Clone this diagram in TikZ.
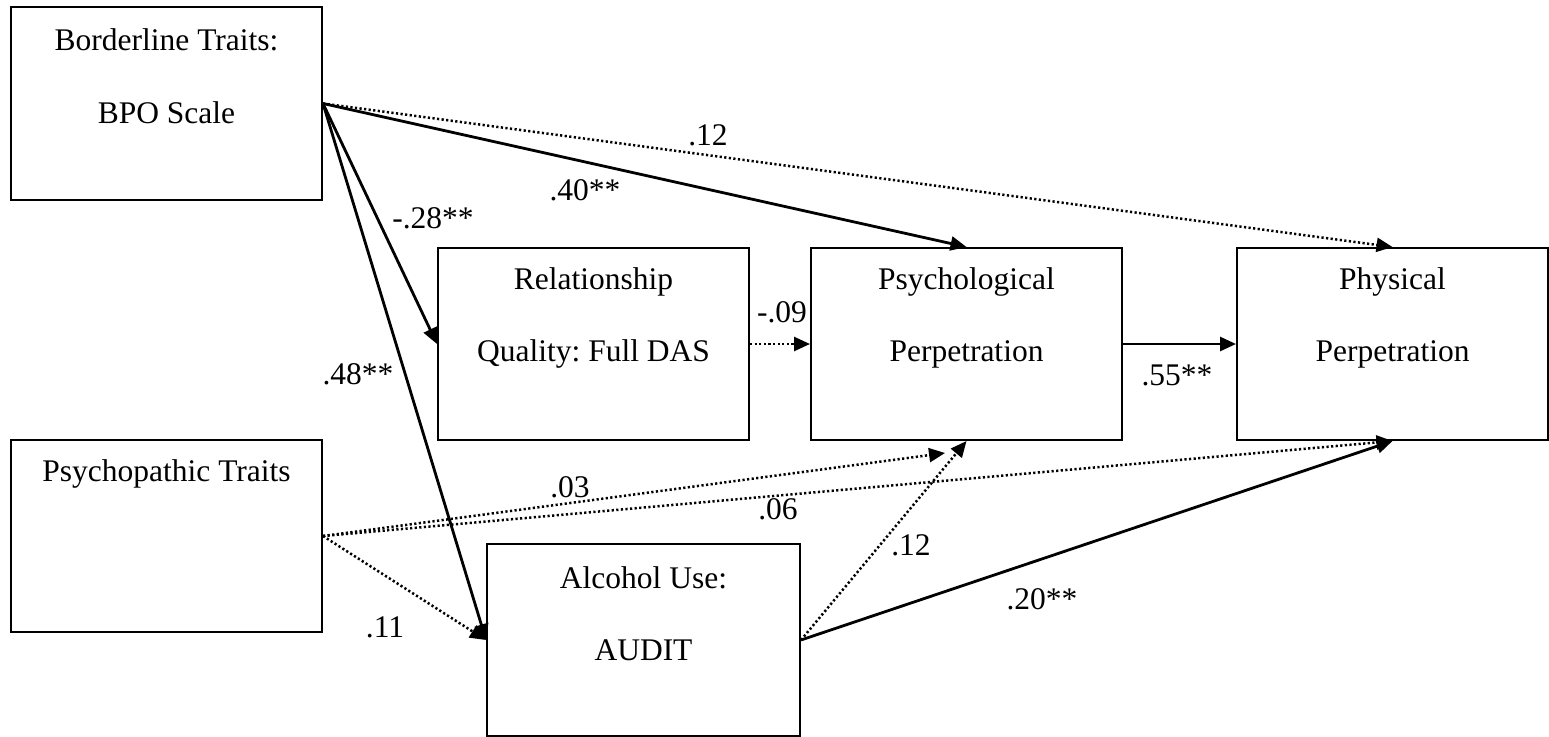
\documentclass[tikz,border=0pt]{standalone}
\usepackage{fontspec}
\setmainfont{Liberation Serif}
\usetikzlibrary{arrows.meta}
\frenchspacing
\begin{document}
\begin{tikzpicture}[x=1pt,y=-1pt,
  font=\fontsize{31.5}{36}\selectfont,
  box/.style={draw,line width=2pt,minimum width=311pt,minimum height=192pt,inner sep=0pt},
  txt/.style={inner sep=0pt,anchor=center},
  lbl/.style={inner sep=0pt,anchor=center},
  path/.style={line width=2.8pt,-{Triangle[length=16pt,width=14pt]}},
  weak/.style={path,line width=2.5pt,dash pattern=on 2.2pt off 2.4pt}
]
\useasboundingbox (0,0) rectangle (1549,736);

% variable boxes
\node[box,minimum height=193pt] (bpo) at (166.5,103.5) {};
\node[box] (rel) at (593.5,344) {};
\node[box] (psy) at (966.5,344) {};
\node[box] (phy) at (1392.5,344) {};
\node[box] (pt)  at (166.5,536) {};
\node[box,minimum width=313pt] (alc) at (643.5,640) {};

% box texts
\node[txt] (bpo1) at (166.5,40) {Borderline Traits:};
\node[txt] (bpo2) at (166.5,113) {BPO Scale};
\node[txt] (rel1) at (593.5,282) {Relationship};
\node[txt] (rel2) at (593.5,354) {Quality: Full DAS};
\node[txt] (psy1) at (966.5,282) {Psychological};
\node[txt] (psy2) at (966.5,354) {Perpetration};
\node[txt] (phy1) at (1392.5,282) {Physical};
\node[txt] (phy2) at (1392.5,354) {Perpetration};
\node[txt] (pt1)  at (166.5,474) {Psychopathic Traits};
\node[txt] (alc1) at (643.5,578) {Alcohol Use:};
\node[txt] (alc2) at (643.5,650) {AUDIT};

% free end of the psychopathy path that stops short of the box
\coordinate (psyin) at (945,453);

% paths
\draw[path] (bpo.east) -- (rel.west);
\draw[path] (bpo.east) -- (psy.north);
\draw[weak] (bpo.east) -- (phy.north);
\draw[path] (bpo.east) -- (alc.west);
\draw[weak] (rel.east) -- (psy.west);
\draw[path] (psy.east) -- (phy.west);
\draw[weak] (pt.east) -- (psyin);
\draw[weak] (pt.east) -- (phy.south);
\draw[weak] (pt.east) -- (alc.west);
\draw[weak] (alc.east) -- (psy.south);
\draw[path] (alc.east) -- (phy.south);

% coefficients
\node[lbl] (l1) at (433,218) {-.28**};
\node[lbl] (l2) at (585,190) {.40**};
\node[lbl] (l3) at (708,135) {.12};
\node[lbl] (l4) at (358,374) {.48**};
\node[lbl] (l5) at (782,312) {-.09};
\node[lbl] (l6) at (1177,375) {.55**};
\node[lbl] (l7) at (570,487) {.03};
\node[lbl] (l8) at (778,509) {.06};
\node[lbl] (l9) at (385,627) {.11};
\node[lbl] (l10) at (911,545) {.12};
\node[lbl] (l11) at (1042,599) {.20**};
\end{tikzpicture}
\end{document}
